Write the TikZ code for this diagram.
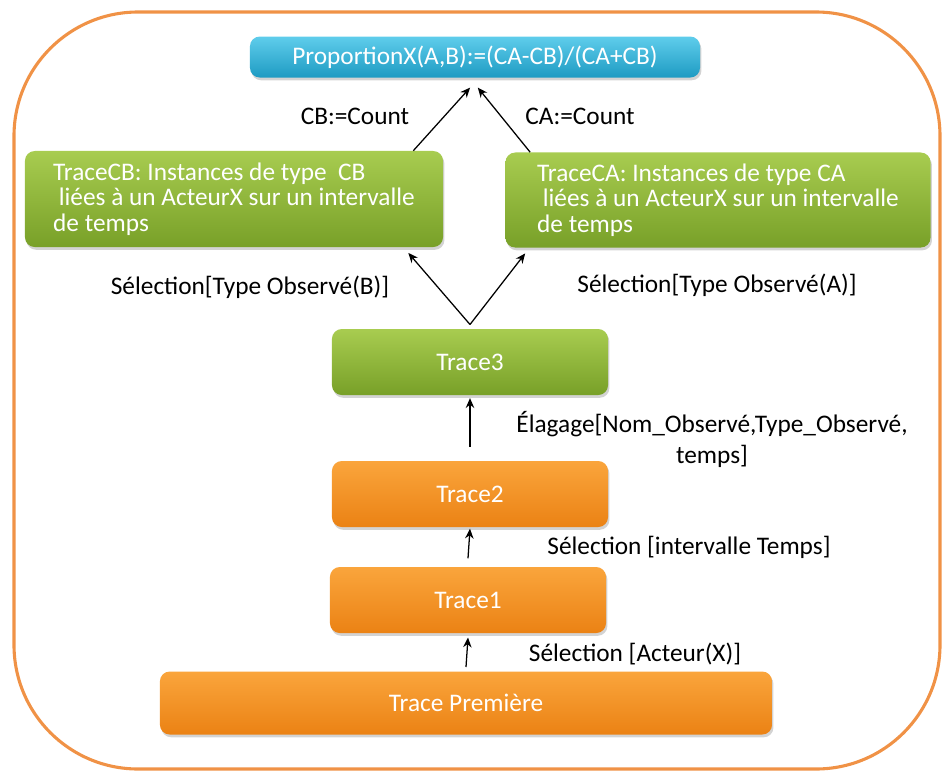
\documentclass[tikz,border=0pt]{standalone}
\usepackage{fontspec}
\setmainfont{Carlito}
\usetikzlibrary{arrows.meta, positioning, calc, shadows}
\definecolor{frameorange}{RGB}{240, 146, 70}
\definecolor{blueTop}{RGB}{95, 205, 235}
\definecolor{blueBot}{RGB}{30, 155, 195}
\definecolor{greenTop}{RGB}{168, 204, 80}
\definecolor{greenBot}{RGB}{120, 160, 40}
\definecolor{orangeTop}{RGB}{250, 165, 60}
\definecolor{orangeBot}{RGB}{235, 130, 20}

\begin{document}
\begin{tikzpicture}[
    x=0.025cm, y=-0.025cm,
    base/.style={rounded corners=7pt, text=white, inner sep=0pt, font=\fontsize{18pt}{18pt}\selectfont,
        drop shadow={opacity=0.35, shadow xshift=1pt, shadow yshift=-2pt}},
    bluebox/.style={base, top color=blueTop, bottom color=blueBot},
    greenbox/.style={base, top color=greenTop, bottom color=greenBot},
    orangebox/.style={base, top color=orangeTop, bottom color=orangeBot},
    tracebox/.style={minimum width=6.9cm, minimum height=1.65cm},
    lbl/.style={font=\fontsize{18pt}{22pt}\selectfont, align=center},
    arrow/.style={-{Stealth[length=7pt, width=6pt]}, line width=0.9pt}
]
    \useasboundingbox (0,0) rectangle (942,772);

    % --- Frame ---
    \draw[frameorange, line width=2.2pt, rounded corners=3.1cm] (14,12) rectangle (940,769);

    % --- Boxes ---
    \node[bluebox, minimum width=11.25cm, minimum height=1.025cm] (proportion) at (475,57) {ProportionX(A,B):=(CA-CB)/(CA+CB)};

    \node[greenbox, minimum width=10.45cm, minimum height=2.4cm, align=left] (traceCB) at (234,199)
        {TraceCB: Instances de type\ \ CB\\\ liées à un ActeurX sur un intervalle\\de temps};
    \node[greenbox, minimum width=10.625cm, minimum height=2.375cm, align=left] (traceCA) at (718,200)
        {TraceCA: Instances de type CA\\\ liées à un ActeurX sur un intervalle\\de temps};

    \node[greenbox, tracebox] (trace3) at (470,362) {Trace3};
    \node[orangebox, tracebox] (trace2) at (470,494) {Trace2};
    \node[orangebox, tracebox] (trace1) at (468,600) {Trace1};
    \node[orangebox, minimum width=15.3cm, minimum height=1.575cm] (tracePremiere) at (466,703) {Trace Première};

    % --- Labels ---
    \node[lbl] (lblCB) at (355,116) {CB:=Count};
    \node[lbl] (lblCA) at (580,116) {CA:=Count};
    \node[lbl] (lblSelB) at (250,287) {Sélection[Type Observé(B)]};
    \node[lbl] (lblSelA) at (717,285) {Sélection[Type Observé(A)]};
    \node[lbl] (lblElag) at (712,439) {Élagage[Nom\_Observé,Type\_Observé,\\temps]};
    \node[lbl] (lblTemps) at (689,547) {Sélection [intervalle Temps]};
    \node[lbl] (lblActeur) at (635,654) {Sélection [Acteur(X)]};

    % --- Arrows ---
    \draw[arrow] ([xshift=-0.75cm]traceCB.north east) -- ([xshift=-3.5pt, yshift=-7pt]proportion.south);
    \draw[arrow] ([xshift=0.625cm]traceCA.north west) -- ([xshift=2pt, yshift=-7pt]proportion.south);

    \draw[arrow] ([yshift=3pt]trace3.north) -- ([xshift=-0.875cm, yshift=-4pt]traceCB.south east);
    \draw[arrow] ([yshift=3pt]trace3.north) -- ([xshift=0.5cm, yshift=-4pt]traceCA.south west);

    \draw[arrow] ([yshift=10pt]trace2.north) -- ([yshift=-2pt]trace3.south);
    \draw[arrow] ([yshift=6pt]trace1.north) -- ([yshift=-1pt]trace2.south);
    \draw[arrow] ([yshift=3pt]tracePremiere.north) -- ([yshift=-3pt]trace1.south);

\end{tikzpicture}
\end{document}
